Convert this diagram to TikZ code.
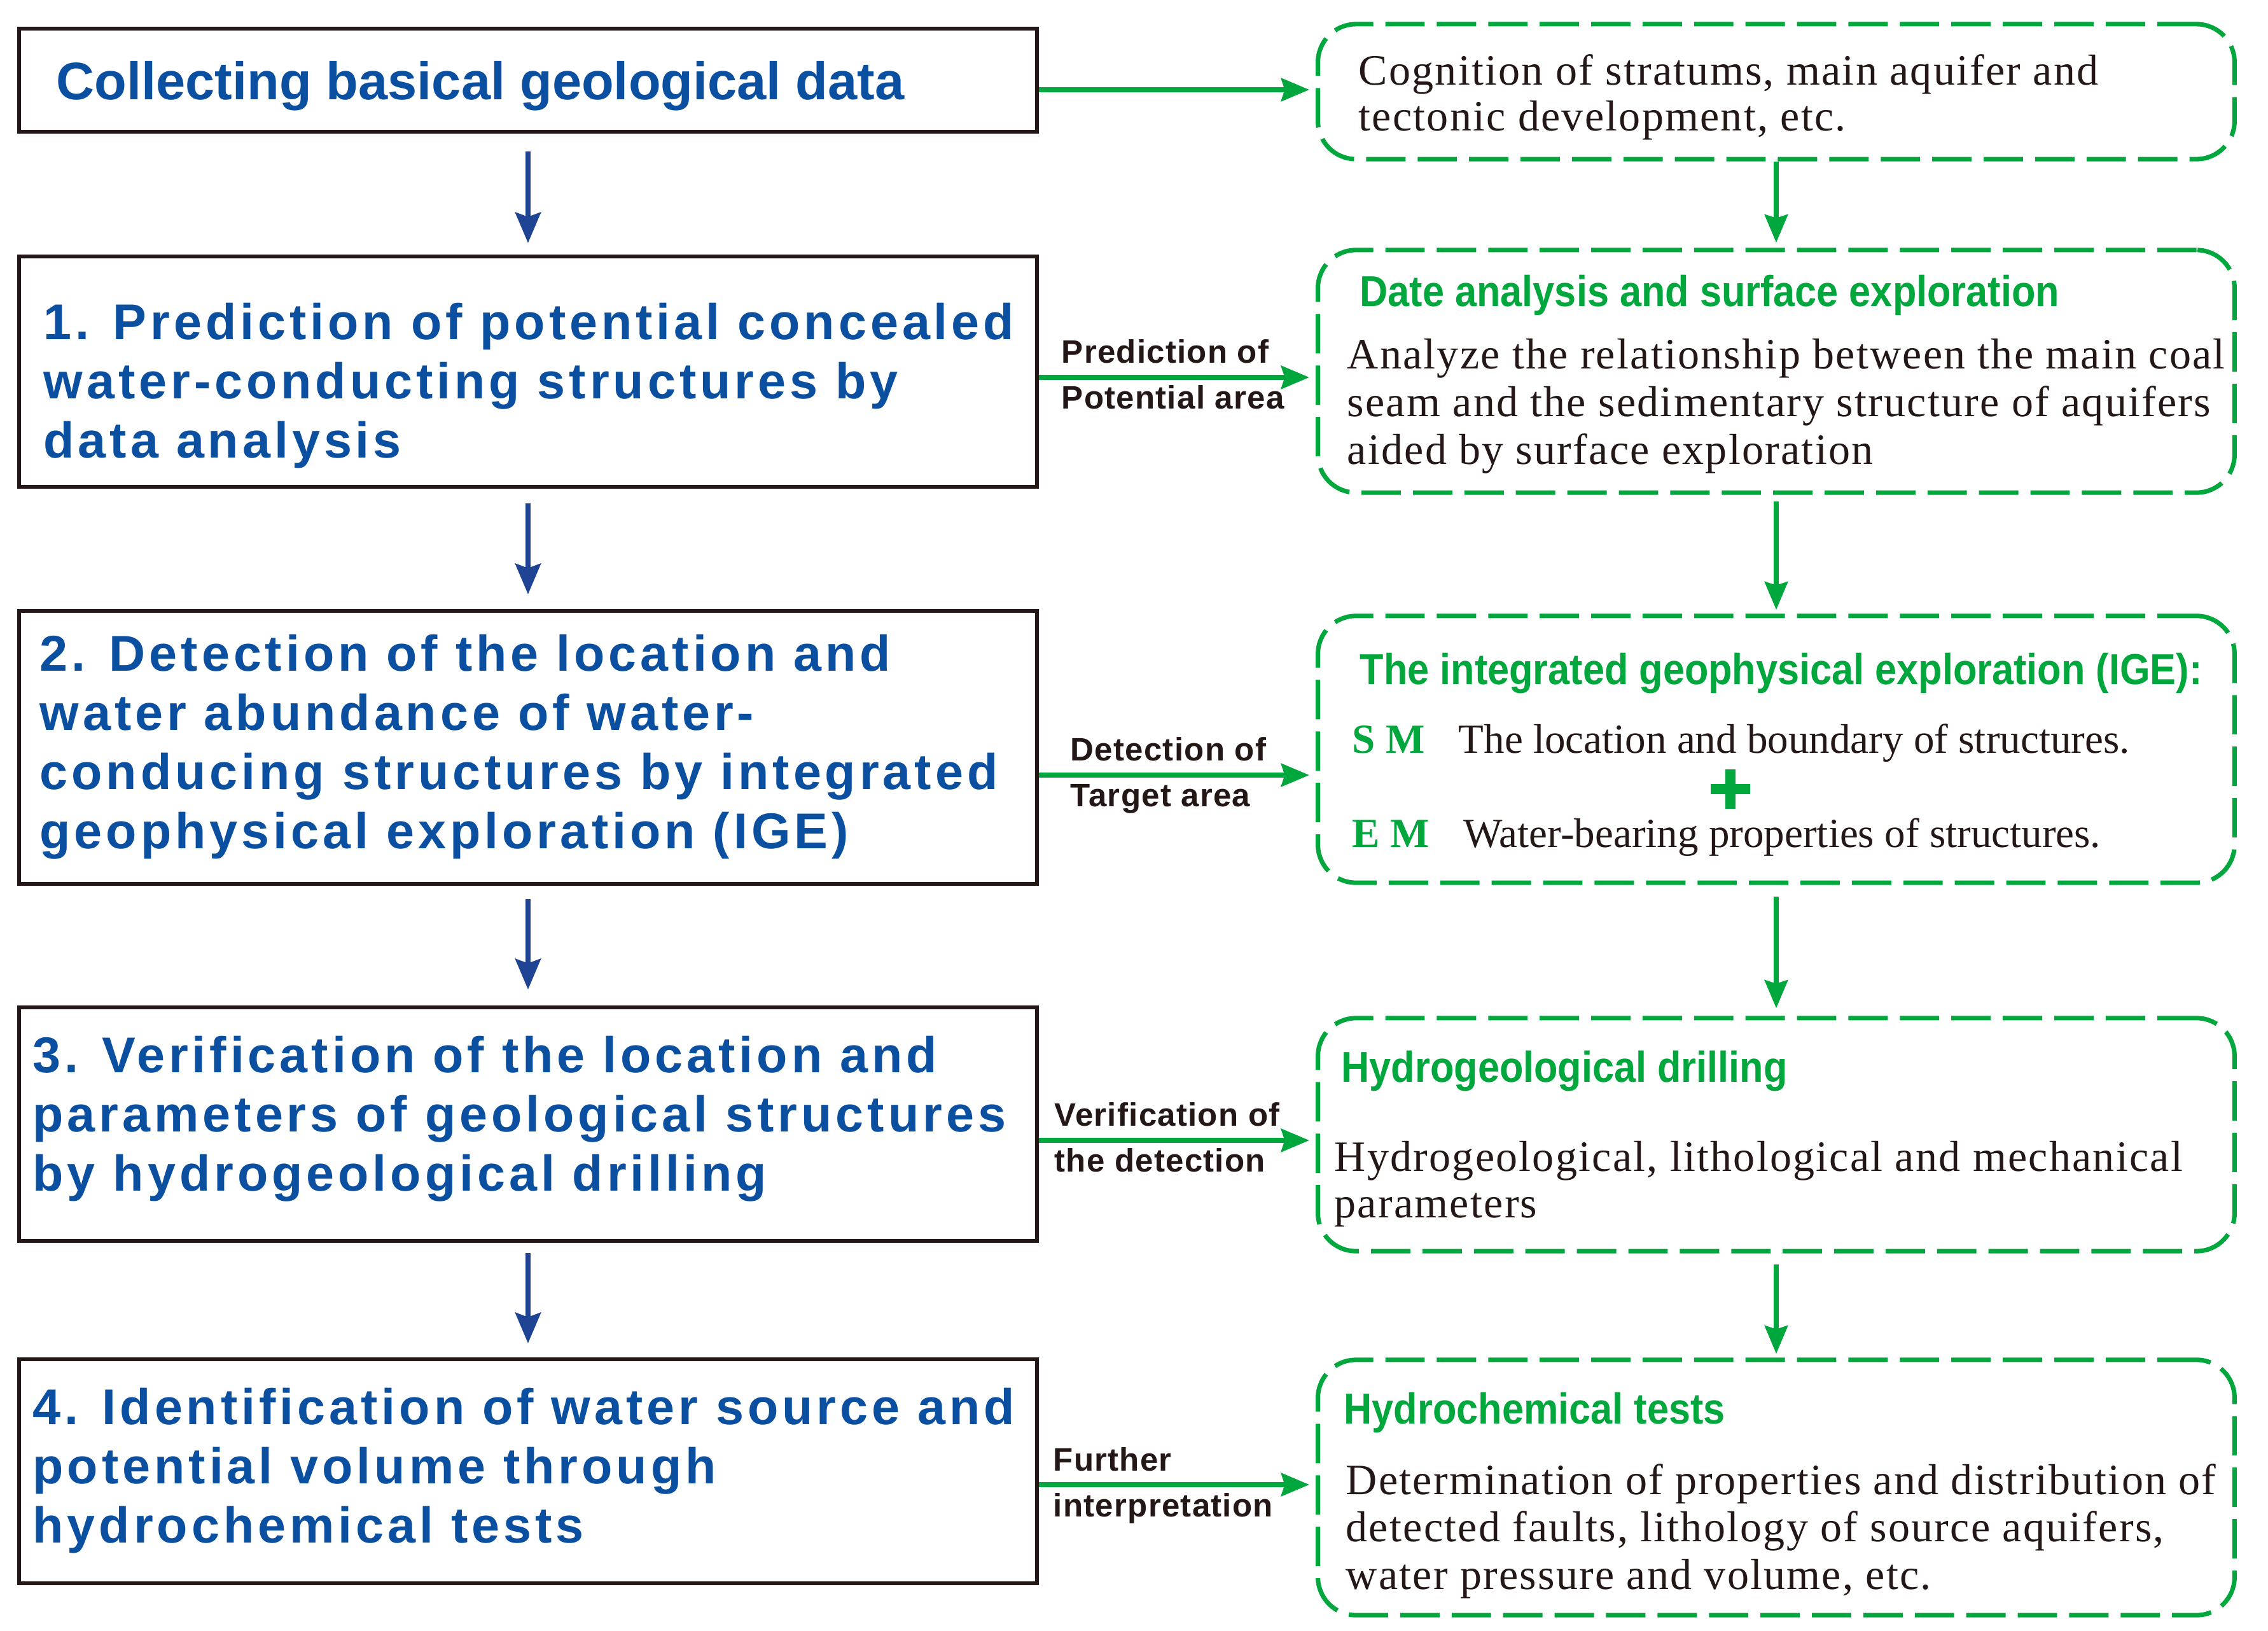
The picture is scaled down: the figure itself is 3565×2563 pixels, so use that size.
\documentclass[tikz,border=0pt]{standalone}
\usepackage{fontspec}
\setmainfont{Liberation Serif}
\newfontfamily\boxfont[LetterSpace=7.5]{Liberation Sans}
\newfontfamily\boxfontA{Liberation Sans}
\newfontfamily\labfont[LetterSpace=2.5]{Liberation Sans}
\newfontfamily\titfont[FakeStretch=0.9]{Liberation Sans}
\newfontfamily\bodyfont[LetterSpace=3.3]{Liberation Serif}
\newfontfamily\plainserif{Liberation Serif}
\usetikzlibrary{arrows.meta}
\definecolor{tblue}{HTML}{0A4FA0}
\definecolor{ablue}{HTML}{1F4494}
\definecolor{tgreen}{HTML}{00A73C}
\definecolor{tdark}{HTML}{231815}
\newcommand{\ml}[1]{\begin{tabular}[t]{@{}l@{}}#1\end{tabular}}
\begin{document}
\begin{tikzpicture}[x=0.01cm,y=-0.01cm,
  lbox/.style={draw=tdark, line width=1.7pt, minimum width=16cm, inner sep=0pt},
  rbox/.style={draw=tgreen, line width=2pt, dash pattern=on 17.6pt off 5.4pt,
               rounded corners=17pt, minimum width=14.4cm, inner sep=0pt},
  txt/.style={anchor=base west, inner sep=0pt},
  btxt/.style={txt, text=tblue, font=\boxfont\bfseries\fontsize{22.5pt}{26.5pt}\selectfont},
  ltxt/.style={txt, text=tdark, font=\labfont\bfseries\fontsize{14.5pt}{20.5pt}\selectfont},
  ttxt/.style={txt, text=tgreen, font=\titfont\bfseries\fontsize{19.35pt}{21pt}\selectfont},
  stxt/.style={txt, text=tdark, font=\bodyfont\fontsize{19.35pt}{21pt}\selectfont},
  mtxt/.style={txt, text=tdark, font=\plainserif\fontsize{18.5pt}{21pt}\selectfont},
  gtag/.style={txt, text=tgreen, font=\plainserif\bfseries\fontsize{18.5pt}{21pt}\selectfont},
  barrow/.style={draw=ablue, line width=2pt, -{Stealth[length=13.7pt, width=11.4pt, inset=2pt]}},
  garrow/.style={draw=tgreen, line width=2.3pt, -{Stealth[length=12.5pt, width=10.2pt, inset=1.5pt]}}
]
\useasboundingbox (0,0) rectangle (3565,2563);
\fill[white] (0,0) rectangle (3565,2563);

% left boxes
\node[lbox, minimum height=1.62cm] (b0) at (830,126) {};
\node[lbox, minimum height=3.62cm] (b1) at (830,584) {};
\node[lbox, minimum height=4.29cm] (b2) at (830,1174.5) {};
\node[lbox, minimum height=3.67cm] (b3) at (830,1766.5) {};
\node[lbox, minimum height=3.52cm] (b4) at (830,2312) {};

\node[txt, text=tblue, font=\boxfontA\bfseries\fontsize{23.6pt}{26.5pt}\selectfont] (t0) at (88,156) {Collecting basical geological data};
\node[btxt] (t1) at (68,533) {\ml{1. Prediction of potential concealed\\water-conducting structures by\\data analysis}};
\node[btxt] (t2) at (62,1054) {\ml{2. Detection of the location and\\water abundance of water-\\conducing structures by integrated\\geophysical exploration (IGE)}};
\node[btxt] (t3) at (51,1685) {\ml{3. Verification of the location and\\parameters of geological structures\\by hydrogeological drilling}};
\node[btxt] (t4) at (51,2238) {\ml{4. Identification of water source and\\potential volume through\\hydrochemical tests}};

% right boxes
\node[rbox, minimum height=2.12cm] (r0) at (2792,144) {};
\node[rbox, minimum height=3.81cm] (r1) at (2792,583.5) {};
\node[rbox, minimum height=4.19cm] (r2) at (2792,1177.5) {};
\node[rbox, minimum height=3.66cm] (r3) at (2792,1783) {};
\node[rbox, minimum height=4.01cm] (r4) at (2792,2337.5) {};

\node[stxt, font=\bodyfont\fontsize{19.35pt}{20.5pt}\selectfont] (s0) at (2135,133) {\ml{Cognition of stratums, main aquifer and\\tectonic development, etc.}};

\node[ttxt] (h1) at (2137,481) {Date analysis and surface exploration};
\node[stxt, font=\bodyfont\fontsize{19.35pt}{21.4pt}\selectfont] (s1) at (2117,579) {\ml{Analyze the relationship between the main coal\\seam and the sedimentary structure of aquifers\\aided by surface exploration}};

\node[ttxt] (h2) at (2137,1075) {The integrated geophysical exploration (IGE):};
\node[gtag] (sm) at (2125,1183) {S M};
\node[mtxt] (s2a) at (2292,1183) {The location and boundary of structures.};
\node[gtag] (em) at (2125,1331) {E M};
\node[mtxt] (s2b) at (2300,1331) {Water-bearing properties of structures.};
\draw[tgreen, line width=4.6pt] (2720,1209) -- (2720,1271) (2689,1240) -- (2751,1240);

\node[ttxt] (h3) at (2108,1700) {Hydrogeological drilling};
\node[stxt, font=\bodyfont\fontsize{19.35pt}{20.8pt}\selectfont] (s3) at (2097,1840) {\ml{Hydrogeological, lithological and mechanical\\parameters}};

\node[ttxt] (h4) at (2112,2237) {Hydrochemical tests};
\node[stxt, font=\bodyfont\fontsize{19.35pt}{21.2pt}\selectfont] (s4) at (2115,2348) {\ml{Determination of properties and distribution of\\detected faults, lithology of source aquifers,\\water pressure and volume, etc.}};

% labels
\node[ltxt] (l1) at (1668,570) {\ml{Prediction of\\Potential area}};
\node[ltxt] (l2) at (1682,1195) {\ml{Detection of\\Target area}};
\node[ltxt] (l3) at (1657,1769) {\ml{Verification of\\the detection}};
\node[ltxt] (l4) at (1655,2311) {\ml{Further\\interpretation}};

% blue arrows
\draw[barrow, shorten <=0.28cm, shorten >=0.18cm] (b0) -- (b1);
\draw[barrow, shorten <=0.23cm, shorten >=0.23cm] (b1) -- (b2);
\draw[barrow, shorten <=0.21cm, shorten >=0.25cm] (b2) -- (b3);
\draw[barrow, shorten <=0.16cm, shorten >=0.22cm] (b3) -- (b4);

% green horizontal arrows
\coordinate (y0) at (0,141);
\coordinate (y1) at (0,593);
\coordinate (y2) at (0,1218);
\coordinate (y3) at (0,1792);
\coordinate (y4) at (0,2333);
\draw[garrow, shorten >=0.1cm] (b0.east |- y0) -- (r0.west |- y0);
\draw[garrow, shorten >=0.1cm] (b1.east |- y1) -- (r1.west |- y1);
\draw[garrow, shorten >=0.1cm] (b2.east |- y2) -- (r2.west |- y2);
\draw[garrow, shorten >=0.1cm] (b3.east |- y3) -- (r3.west |- y3);
\draw[garrow, shorten >=0.1cm] (b4.east |- y4) -- (r4.west |- y4);

% green vertical arrows
\draw[garrow, shorten >=0.08cm] (r0) -- (r1);
\draw[garrow, shorten <=0.1cm, shorten >=0.06cm] (r1) -- (r2);
\draw[garrow, shorten <=0.18cm, shorten >=0.12cm] (r2) -- (r3);
\draw[garrow, shorten <=0.17cm, shorten >=0.06cm] (r3) -- (r4);
\end{tikzpicture}
\end{document}
